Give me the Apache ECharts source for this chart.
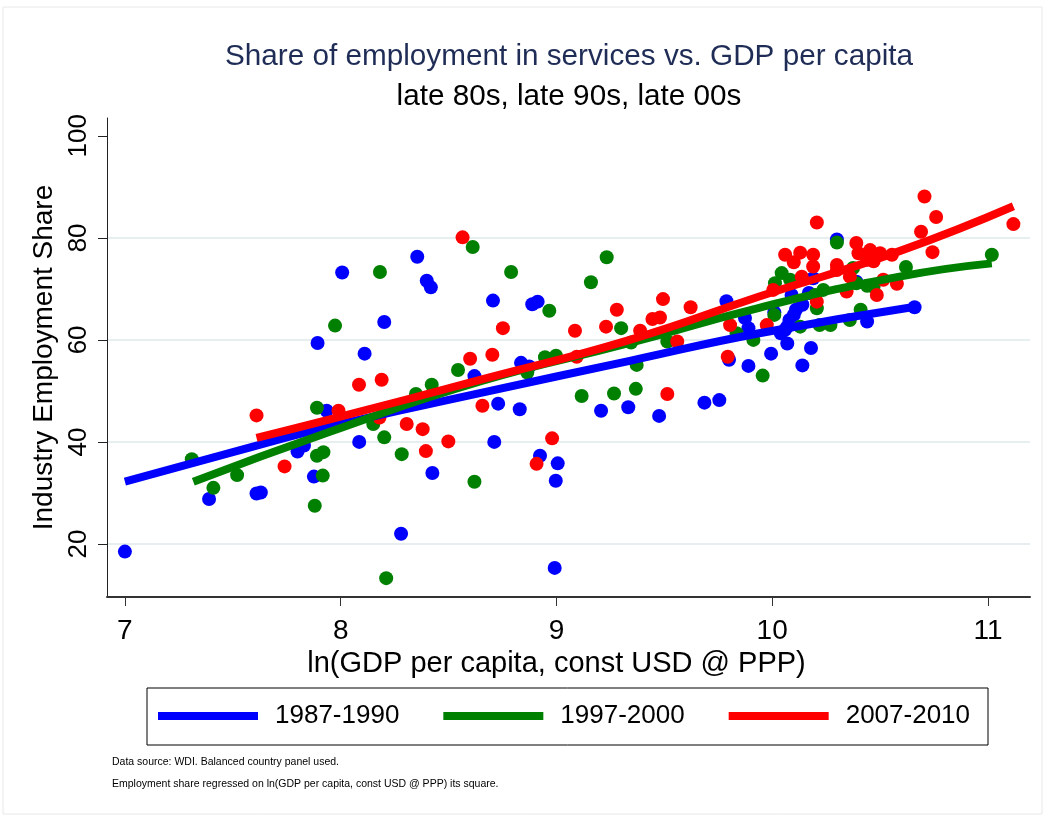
<!DOCTYPE html>
<html><head><meta charset="utf-8">
<script src="https://cdn.jsdelivr.net/npm/echarts@6/dist/echarts.min.js"></script>
<style>html,body{margin:0;padding:0;background:#fff}#c{width:1045px;height:817px}</style>
</head><body><div id="c"></div>
<script>
// ---- data ----
const xTicks = [7, 8, 9, 10, 11];
const yTicks = [20, 40, 60, 80, 100];
const periods = ['1987-1990', '1997-2000', '2007-2010'];

const pts1987 = [[7.00,18.5],[7.39,28.8],[7.61,29.9],[7.63,30.1],[7.80,38.1],[7.83,39.3],[7.876,33.2],[7.893,59.4],[7.935,46.1],[8.007,73.2],[8.086,40.0],[8.111,57.3],[8.202,63.5],[8.28,22.0],[8.355,76.3],[8.399,71.6],[8.418,70.3],[8.425,33.9],[8.62,52.9],[8.706,67.7],[8.712,40.0],[8.73,47.5],[8.83,46.4],[8.836,55.5],[8.874,54.8],[8.888,67.0],[8.913,67.5],[8.924,37.3],[8.992,15.3],[8.997,32.4],[9.006,35.8],[9.207,46.1],[9.333,46.8],[9.476,45.1],[9.686,47.7],[9.755,48.2],[9.788,67.6],[9.80,56.1],[9.874,64.3],[9.89,62.3],[9.89,54.9],[9.995,57.3],[10.01,65.4],[10.04,61.3],[10.06,62.0],[10.07,62.6],[10.07,59.3],[10.08,63.9],[10.09,68.8],[10.10,64.9],[10.11,65.9],[10.14,66.9],[10.14,55.0],[10.17,69.2],[10.18,58.4],[10.19,72.1],[10.30,79.7],[10.39,71.4],[10.44,63.6],[10.66,66.4]];

const pts1997 = [[7.31,36.6],[7.41,31.0],[7.52,33.5],[7.88,27.5],[7.89,46.7],[7.89,37.3],[7.917,33.4],[7.92,38.0],[7.974,62.8],[8.151,43.5],[8.182,73.3],[8.202,40.9],[8.211,13.3],[8.283,37.6],[8.349,49.4],[8.422,51.2],[8.544,54.1],[8.612,78.2],[8.62,32.2],[8.79,73.3],[8.865,53.6],[8.947,56.6],[8.967,65.7],[8.998,56.9],[9.117,49.0],[9.16,71.3],[9.233,76.2],[9.267,49.5],[9.30,62.3],[9.346,59.5],[9.368,50.4],[9.372,55.1],[9.514,59.7],[9.835,61.3],[9.913,60.0],[9.956,53.0],[10.01,64.9],[10.013,71.1],[10.044,73.1],[10.083,71.8],[10.13,62.6],[10.20,68.8],[10.207,66.2],[10.22,62.9],[10.237,69.8],[10.27,62.9],[10.30,79.1],[10.36,63.9],[10.375,74.1],[10.39,71.1],[10.41,65.9],[10.44,70.6],[10.47,70.4],[10.62,74.3],[11.018,76.7]];

const pts2007 = [[7.61,45.2],[7.74,35.2],[7.99,46.1],[8.085,51.2],[8.18,44.8],[8.19,52.2],[8.306,43.5],[8.38,42.5],[8.395,38.2],[8.499,40.1],[8.565,80.1],[8.60,56.3],[8.657,47.1],[8.703,57.1],[8.752,62.3],[8.908,35.7],[8.98,40.7],[9.086,61.8],[9.094,56.7],[9.23,62.6],[9.28,65.9],[9.388,61.8],[9.445,64.1],[9.48,64.4],[9.494,68.0],[9.514,49.4],[9.56,59.7],[9.622,66.4],[9.794,56.7],[9.805,62.9],[9.975,62.9],[10.005,69.8],[10.06,76.7],[10.10,75.2],[10.13,77.1],[10.137,72.4],[10.19,76.7],[10.19,74.4],[10.207,83.0],[10.207,67.5],[10.30,74.7],[10.30,73.7],[10.345,69.5],[10.36,72.4],[10.39,79.0],[10.40,77.0],[10.44,75.7],[10.454,77.6],[10.47,75.4],[10.50,77.0],[10.555,76.7],[10.485,68.8],[10.515,71.8],[10.578,71.0],[10.69,81.2],[10.706,88.1],[10.743,77.2],[10.76,84.1],[11.118,82.7]];

const fit1987 = [[7.0,32.2],[7.5,38.0],[7.95,43.0],[8.65,49.6],[9.34,55.9],[9.94,61.3],[10.663,66.5]];
const fit1997 = [[7.317,32.2],[7.95,42.0],[8.65,51.9],[9.34,59.4],[9.94,66.3],[10.59,72.4],[11.018,75.0]];
const fit2007 = [[7.61,40.8],[7.95,44.4],[8.65,52.2],[9.34,60.0],[9.94,68.5],[10.59,77.4],[11.118,86.2]];

const titleText = 'Share of employment in services vs. GDP per capita';
const subtitleText = 'late 80s, late 90s, late 00s';
const xName = 'ln(GDP per capita, const USD @ PPP)';
const yName = 'Industry Employment Share';
const notes = ['Data source: WDI. Balanced country panel used.',
               'Employment share regressed on ln(GDP per capita, const USD @ PPP) its square.'];

// ---- styling ----
const colors = ['#0000ff', '#008000', '#ff0000'];
const FONT = '"Liberation Sans", Arial, Helvetica, sans-serif';
const gridColor = '#e6eef0';

const chart = echarts.init(document.getElementById('c'), null, {renderer: 'canvas'});

const scatter = (name, data, color) => ({
  type: 'scatter', name, data, symbol: 'circle', symbolSize: 14,
  itemStyle: {color, opacity: 1}, z: 2, emphasis: {disabled: true}
});
const fit = (name, data, color) => ({
  type: 'line', name, data, smooth: true, showSymbol: false, symbol: 'none',
  lineStyle: {color, width: 8, cap: 'butt'}, itemStyle: {color}, z: 3,
  emphasis: {disabled: true}
});

const option = {
  animation: false,
  backgroundColor: '#fff',
  grid: {left: 107, right: 15, top: 118, bottom: 220},
  xAxis: {
    type: 'value', min: 6.917, max: 11.195,
    name: xName, nameLocation: 'middle', nameGap: 46,
    nameTextStyle: {fontFamily: FONT, fontSize: 29, color: '#000', padding: [0, 24, 0, 0]},
    axisLine: {show: true, onZero: false, lineStyle: {color: '#333', width: 2}},
    axisTick: {show: true, length: 9, customValues: xTicks, lineStyle: {color: '#333', width: 1}},
    axisLabel: {customValues: xTicks, fontFamily: FONT, fontSize: 28, color: '#000', margin: 20},
    splitLine: {show: false}
  },
  yAxis: {
    type: 'value', min: 9.6, max: 103.5,
    name: yName, nameLocation: 'middle', nameGap: 42, nameRotate: 90,
    nameTextStyle: {fontFamily: FONT, fontSize: 28, color: '#000'},
    axisLine: {show: true, onZero: false, lineStyle: {color: '#222', width: 1}},
    axisTick: {show: true, length: 9, customValues: yTicks, lineStyle: {color: '#222', width: 1}},
    axisLabel: {customValues: yTicks, rotate: 90, fontFamily: FONT, fontSize: 26, color: '#000', margin: 15},
    splitLine: {show: true, lineStyle: {color: [gridColor, gridColor, gridColor, gridColor, 'rgba(0,0,0,0)'], width: 2}}
  },
  legend: {
    data: periods.map(n => ({name: n, icon: 'rect'})),
    selectedMode: false,
    orient: 'horizontal', left: 147, top: 688,
    itemWidth: 100, itemHeight: 8, itemGap: 44,
    borderColor: '#000', borderWidth: 1,
    padding: [15, 18, 16, 11],
    textStyle: {fontFamily: FONT, fontSize: 26, color: '#000', padding: [0, 0, 0, 12]}
  },
  graphic: [
    {type: 'rect', silent: true, z: -10,
     shape: {x: 3, y: 7, width: 1039, height: 807},
     style: {fill: 'none', stroke: '#e8e8e8', lineWidth: 1}},
    {type: 'text', x: 569, y: 57, silent: true,
     style: {text: titleText, fontFamily: FONT, fontSize: 29.7, fill: '#1e2c56',
             textAlign: 'center', verticalAlign: 'middle', textVerticalAlign: 'middle'}},
    {type: 'text', x: 569, y: 97, silent: true,
     style: {text: subtitleText, fontFamily: FONT, fontSize: 29.7, fill: '#000',
             textAlign: 'center', verticalAlign: 'middle', textVerticalAlign: 'middle'}},
    {type: 'text', x: 112, y: 762, silent: true,
     style: {text: notes[0], fontFamily: FONT, fontSize: 10.5, fill: '#000',
             textAlign: 'left', verticalAlign: 'middle', textVerticalAlign: 'middle'}},
    {type: 'text', x: 112, y: 784, silent: true,
     style: {text: notes[1], fontFamily: FONT, fontSize: 10.5, fill: '#000',
             textAlign: 'left', verticalAlign: 'middle', textVerticalAlign: 'middle'}}
  ],
  series: [
    scatter(periods[0], pts1987, colors[0]),
    scatter(periods[1], pts1997, colors[1]),
    scatter(periods[2], pts2007, colors[2]),
    fit(periods[0], fit1987, colors[0]),
    fit(periods[1], fit1997, colors[1]),
    fit(periods[2], fit2007, colors[2])
  ]
};
chart.setOption(option);
</script>
</body></html>
